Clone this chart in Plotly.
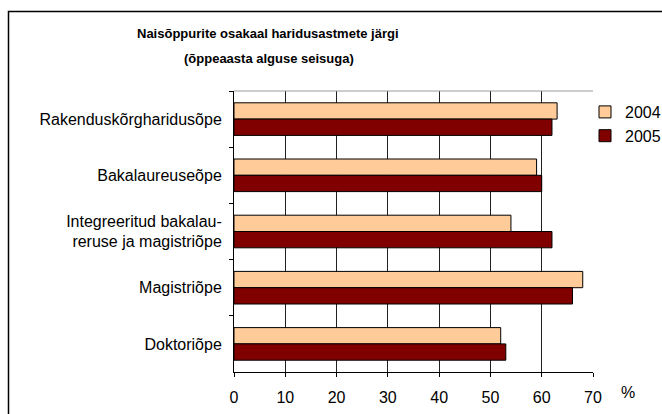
import plotly.graph_objects as go

categories = ["Rakenduskõrgharidusõpe", "Bakalaureuseõpe",
              "Integreeritud bakalau-<br>reruse ja magistriõpe",
              "Magistriõpe", "Doktoriõpe"]
years = ["2004", "2005"]
v2004 = [63, 59, 54, 68, 52]
v2005 = [62, 60, 62, 66, 53]
x_ticks = [0, 10, 20, 30, 40, 50, 60, 70]
title_line1 = "Naisõppurite osakaal haridusastmete järgi"
title_line2 = "(õppeaasta alguse seisuga)"
unit_label = "%"

W, H = 662, 414
L, R, T, B = 234, 593, 91, 372

def px_x(p):
    return (p - L) / (R - L)

def px_y(p):
    return (B - p) / (B - T)

FONT = "Liberation Sans, Arial, sans-serif"

fig = go.Figure()
fig.add_trace(go.Bar(y=categories, x=v2004, name=years[0], orientation="h",
                     marker=dict(color="#FFCC99", line=dict(color="#000000", width=1))))
fig.add_trace(go.Bar(y=categories, x=v2005, name=years[1], orientation="h",
                     marker=dict(color="#800000", line=dict(color="#000000", width=1))))

fig.update_layout(
    width=W, height=H,
    margin=dict(l=L, r=W - R, t=T, b=H - B, pad=0, autoexpand=False),
    paper_bgcolor="white", plot_bgcolor="white",
    barmode="group", bargap=0.42, bargroupgap=0,
    font=dict(family=FONT, size=16, color="#000000"),
    showlegend=True,
    legend=dict(x=px_x(585), y=px_y(95), xanchor="left", yanchor="top",
                traceorder="normal", font=dict(size=16), itemwidth=30,
                tracegroupgap=0, bgcolor="rgba(0,0,0,0)"),
    xaxis=dict(range=[0, 70], tickvals=x_ticks, showgrid=True, gridcolor="#202020",
               gridwidth=1, showline=True, linecolor="#000000", linewidth=1,
               ticks="outside", ticklen=4, tickcolor="#000000", zeroline=False,
               ticklabelstandoff=7, fixedrange=True, automargin=False),
    yaxis=dict(autorange="reversed", showline=True, linecolor="#000000", linewidth=1,
               ticks="outside", ticklen=4, tickcolor="#000000", tickson="boundaries",
               showgrid=False, ticklabelstandoff=8, fixedrange=True, automargin=False),
    annotations=[
        dict(text="<b>" + title_line1 + "</b>", x=px_x(268), y=px_y(33), xref="paper",
             yref="paper", showarrow=False, xanchor="center", yanchor="middle",
             font=dict(size=13)),
        dict(text="<b>" + title_line2 + "</b>", x=px_x(269), y=px_y(58), xref="paper",
             yref="paper", showarrow=False, xanchor="center", yanchor="middle",
             font=dict(size=13)),
        dict(text=unit_label, x=px_x(628), y=px_y(392), xref="paper", yref="paper",
             showarrow=False, xanchor="center", yanchor="middle", font=dict(size=16)),
    ],
    shapes=[
        dict(type="line", xref="paper", yref="paper", x0=0, x1=1, y0=1, y1=1,
             line=dict(color="#9a9a9a", width=1)),
        dict(type="rect", xref="paper", yref="paper", x0=px_x(8.5), y0=-1,
             x1=3, y1=px_y(11.5), line=dict(color="#000000", width=1.5)),
    ],
)

fig.write_html("out.html", config={"displayModeBar": False},
               post_script="document.body.style.margin='0';document.body.style.overflow='hidden';")
